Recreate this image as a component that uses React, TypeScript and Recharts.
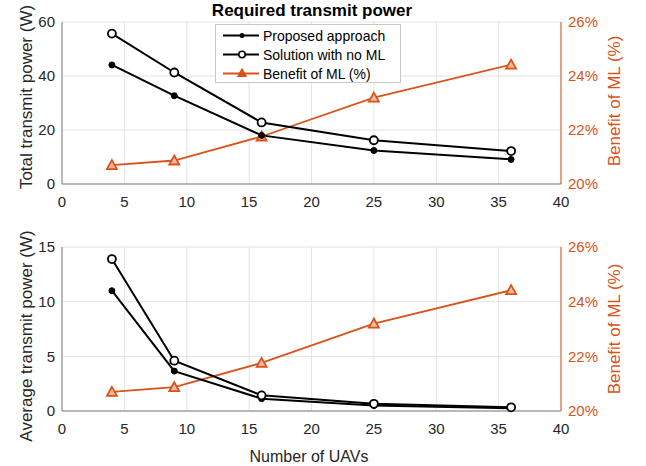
import React from 'react';
import { LineChart, Line, XAxis, YAxis, CartesianGrid, Legend } from 'recharts';

const uavCounts = [4, 9, 16, 25, 36];
const totalProposed = [44.1, 32.7, 18.0, 12.4, 9.1];
const totalNoMl = [55.7, 41.3, 22.8, 16.2, 12.2];
const avgProposed = [11.0, 3.65, 1.13, 0.5, 0.26];
const avgNoMl = [13.9, 4.6, 1.43, 0.66, 0.34];
const benefitPct = [20.7, 20.87, 21.76, 23.2, 24.42];

const xTicks = [0, 5, 10, 15, 20, 25, 30, 35, 40];
const totalTicks = [0, 20, 40, 60];
const avgTicks = [0, 5, 10, 15];
const benefitTicks = [20, 22, 24, 26];

const seriesNames = ['Proposed approach', 'Solution with no ML', 'Benefit of ML (%)'];
const titleText = 'Required transmit power';
const xLabelText = 'Number of UAVs';
const yLabelTop = 'Total transmit power (W)';
const yLabelBottom = 'Average transmit power (W)';
const yLabelRight = 'Benefit of ML (%)';

const FONT = '"Liberation Sans", Arial, Helvetica, sans-serif';
const ORANGE = '#D95319';
const AXIS_GRAY = '#808080';
const TEXT_GRAY = '#262626';
const GRID = '#e4e4e4';

const topData = uavCounts.map((n, i) => ({ n, proposed: totalProposed[i], noMl: totalNoMl[i], benefit: benefitPct[i] }));
const bottomData = uavCounts.map((n, i) => ({ n, proposed: avgProposed[i], noMl: avgNoMl[i], benefit: benefitPct[i] }));

const FilledDot = (props: any) => {
  const { cx, cy } = props;
  if (cx == null || cy == null) return null;
  return <circle key={`f-${cx}`} cx={cx} cy={cy} r={3} fill="#000" stroke="#000" strokeWidth={1} />;
};
const OpenDot = (props: any) => {
  const { cx, cy } = props;
  if (cx == null || cy == null) return null;
  return <circle key={`o-${cx}`} cx={cx} cy={cy} r={4} fill="#fff" stroke="#000" strokeWidth={1.8} />;
};
const TriDot = (props: any) => {
  const { cx, cy } = props;
  if (cx == null || cy == null) return null;
  return (
    <path
      key={`t-${cx}`}
      d={`M${cx},${cy - 5} L${cx + 5},${cy + 4} L${cx - 5},${cy + 4} Z`}
      fill="#f3b9a0"
      stroke={ORANGE}
      strokeWidth={1.8}
      strokeLinejoin="miter"
    />
  );
};

const LegendBox = () => (
  <div
    style={{
      width: 184,
      height: 57,
      border: '1px solid #c8c8c8',
      background: '#fff',
      fontFamily: FONT,
      fontSize: 14,
      color: '#000',
      boxSizing: 'content-box',
      position: 'relative',
    }}
  >
    {seriesNames.map((name, i) => (
      <div key={name} style={{ position: 'absolute', left: 0, top: 1 + i * 19, height: 19, width: 184, display: 'flex', alignItems: 'center' }}>
        <svg width={46} height={19} style={{ display: 'block' }}>
          <line x1={7} y1={9.5} x2={43} y2={9.5} stroke={i === 2 ? ORANGE : '#000'} strokeWidth={i === 2 ? 1.8 : 2} />
          {i === 0 && <circle cx={26} cy={9.5} r={2.5} fill="#000" />}
          {i === 1 && <circle cx={26} cy={9.5} r={3.2} fill="#fff" stroke="#000" strokeWidth={1.6} />}
          {i === 2 && <path d={`M26,4.5 L30.5,12.5 L21.5,12.5 Z`} fill={ORANGE} stroke={ORANGE} strokeWidth={1} />}
        </svg>
        <span style={{ marginLeft: 1, whiteSpace: 'nowrap' }}>{name}</span>
      </div>
    ))}
  </div>
);

const tickStyle = { fontFamily: FONT, fontSize: 15, fill: TEXT_GRAY };
const rightTickStyle = { fontFamily: FONT, fontSize: 15, fill: ORANGE };

function Panel({ data, leftTicks, leftMax, height, marginTop, xAxisHeight, showLegend }: any) {
  return (
    <LineChart width={646} height={height} data={data} margin={{ top: marginTop, right: 0, bottom: 0, left: 0 }}>
      <CartesianGrid xAxisId="b" yAxisId="left" stroke={GRID} strokeWidth={1} verticalValues={xTicks} />
      <XAxis
        xAxisId="b"
        dataKey="n"
        type="number"
        domain={[0, 40]}
        ticks={xTicks}
        interval={0}
        height={xAxisHeight}
        tickLine={false}
        tickSize={0}
        tickMargin={12}
        tick={tickStyle}
        axisLine={{ stroke: AXIS_GRAY, strokeWidth: 1 }}
      />
      <XAxis
        xAxisId="t"
        orientation="top"
        type="number"
        domain={[0, 40]}
        height={0}
        tick={false}
        tickLine={false}
        axisLine={{ stroke: AXIS_GRAY, strokeWidth: 1 }}
      />
      <YAxis
        yAxisId="left"
        type="number"
        domain={[0, leftMax]}
        ticks={leftTicks}
        interval={0}
        width={62}
        tickLine={false}
        tickSize={0}
        tickMargin={7}
        tick={tickStyle}
        axisLine={{ stroke: AXIS_GRAY, strokeWidth: 1 }}
      />
      <YAxis
        yAxisId="right"
        orientation="right"
        type="number"
        domain={[20, 26]}
        ticks={benefitTicks}
        interval={0}
        width={85}
        tickLine={false}
        tickSize={0}
        tickMargin={7}
        tick={rightTickStyle}
        tickFormatter={(v: number) => `${v}%`}
        axisLine={{ stroke: ORANGE, strokeWidth: 1 }}
      />
      <Line xAxisId="b" yAxisId="right" dataKey="benefit" stroke={ORANGE} strokeWidth={1.8} dot={TriDot} isAnimationActive={false} />
      <Line xAxisId="b" yAxisId="left" dataKey="proposed" stroke="#000" strokeWidth={2} dot={FilledDot} isAnimationActive={false} />
      <Line xAxisId="b" yAxisId="left" dataKey="noMl" stroke="#000" strokeWidth={2} dot={OpenDot} isAnimationActive={false} />
      {showLegend && (
        <Legend
          layout="vertical"
          align="center"
          verticalAlign="middle"
          content={() => <LegendBox />}
          wrapperStyle={{ left: 215, top: 24, width: 186, height: 59 }}
        />
      )}
    </LineChart>
  );
}

export default function App() {
  return (
    <div style={{ position: 'absolute', left: 0, top: 0, width: 646, height: 466, overflow: 'hidden', background: '#fff' }}>
      <div style={{ position: 'absolute', left: 0, top: 0 }}>
        <Panel data={topData} leftTicks={totalTicks} leftMax={60} height={215} marginTop={22} xAxisHeight={31} showLegend />
      </div>
      <div style={{ position: 'absolute', left: 0, top: 225 }}>
        <Panel data={bottomData} leftTicks={avgTicks} leftMax={15} height={241} marginTop={22} xAxisHeight={55} showLegend={false} />
      </div>
      <svg width={646} height={466} style={{ position: 'absolute', left: 0, top: 0, pointerEvents: 'none' }}>
        <text x={312} y={15.5} textAnchor="middle" fontFamily={FONT} fontSize={17} fontWeight="bold" fill="#000">{titleText}</text>
        <text x={309} y={462} textAnchor="middle" fontFamily={FONT} fontSize={16} fill={TEXT_GRAY}>{xLabelText}</text>
        <text x={32} y={97} textAnchor="middle" fontFamily={FONT} fontSize={17} fill={TEXT_GRAY} transform="rotate(-90 32 97)">{yLabelTop}</text>
        <text x={32} y={336} textAnchor="middle" fontFamily={FONT} fontSize={17} fill={TEXT_GRAY} transform="rotate(-90 32 336)">{yLabelBottom}</text>
        <text x={620} y={101} textAnchor="middle" fontFamily={FONT} fontSize={17} fill={ORANGE} transform="rotate(-90 620 101)">{yLabelRight}</text>
        <text x={620} y={329} textAnchor="middle" fontFamily={FONT} fontSize={17} fill={ORANGE} transform="rotate(-90 620 329)">{yLabelRight}</text>
      </svg>
    </div>
  );
}
